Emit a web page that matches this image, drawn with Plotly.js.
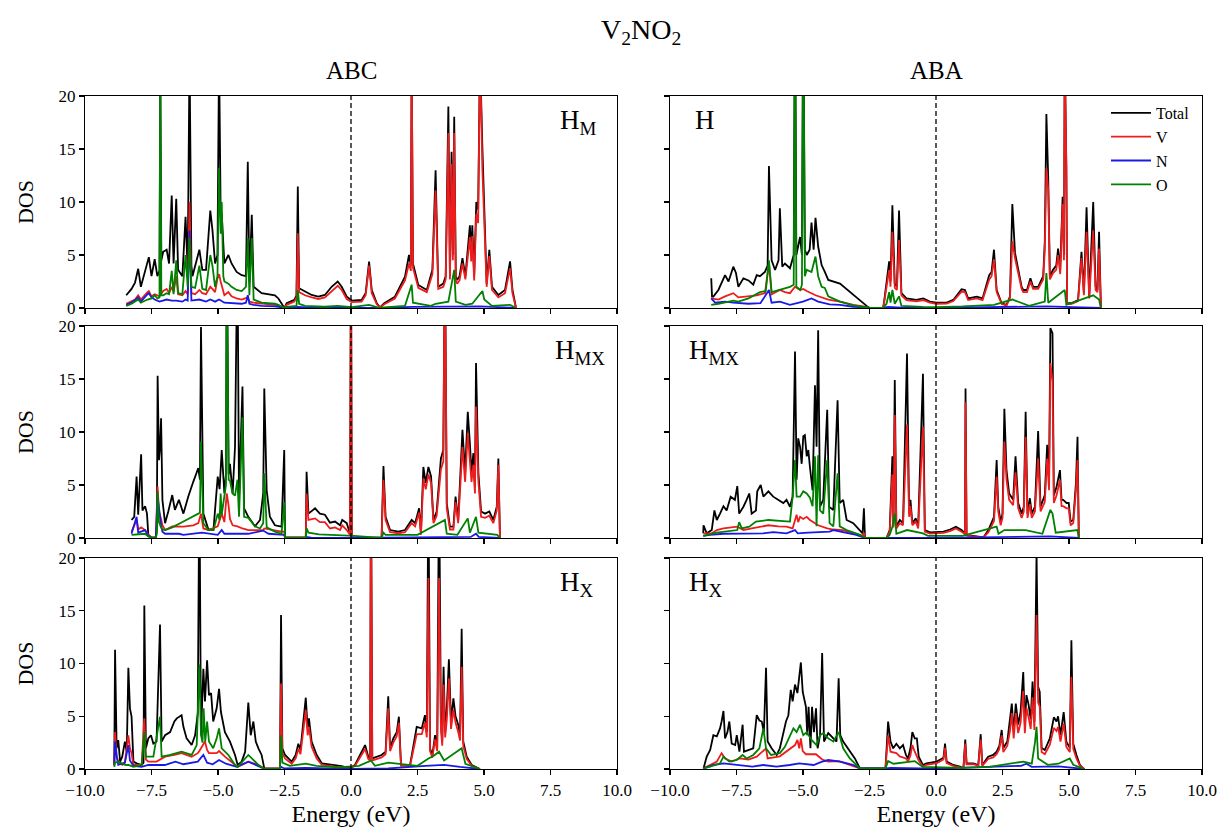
<!DOCTYPE html>
<html>
<head>
<meta charset="utf-8">
<script src="https://cdn.plot.ly/plotly-3.0.1.min.js"></script>
<style>
  html, body { margin: 0; padding: 0; background: #fff; }
  #chart { width: 1222px; height: 832px; }
</style>
</head>
<body>
<div id="chart"></div>
<script>
// ---- Projected DOS of V2NO2, [energy (eV), states] pairs per curve ----

// ABC stacking, H_M site
const abcHM_total = [[-8.45,1.2],[-8.25,1.8],[-8.12,2.4],[-8.0,3.7],[-7.9,2.0],[-7.75,3.5],[-7.65,4.3],[-7.6,4.8],[-7.5,3.0],[-7.38,4.6],[-7.28,3.0],[-7.2,3.5],[-7.17,22],[-7.13,4.5],[-7.06,5.3],[-6.93,5.5],[-6.84,4.2],[-6.74,10.6],[-6.67,4.2],[-6.57,10.3],[-6.5,3.6],[-6.34,3.0],[-6.22,8.6],[-6.14,3.6],[-6.07,24],[-6.0,4.0],[-5.96,3.0],[-5.86,3.9],[-5.7,5.5],[-5.59,3.6],[-5.45,3.6],[-5.29,9.2],[-5.21,7.4],[-5.11,4.2],[-5.02,5.0],[-4.96,24],[-4.9,8.9],[-4.86,8.9],[-4.76,4.2],[-4.61,5.0],[-4.49,4.2],[-4.3,3.4],[-4.11,3.1],[-3.95,3.0],[-3.88,13.8],[-3.82,2.5],[-3.73,8.8],[-3.66,2.0],[-3.36,1.4],[-2.86,1.2],[-2.73,0.9],[-2.58,0.3],[-2.5,0],[-2.42,0.45],[-2.13,0.76],[-2.05,1.2],[-2.0,11.45],[-1.95,1.86],[-1.73,1.55],[-1.48,1.23],[-1.23,1.07],[-0.98,1.23],[-0.73,2.0],[-0.5,2.5],[-0.35,2.0],[-0.16,1.07],[0.03,0.7],[0.4,0.76],[0.55,1.4],[0.68,4.37],[0.78,1.7],[0.97,0.45],[1.09,0.05],[1.25,0.45],[1.65,1.07],[2.03,2.96],[2.18,5.0],[2.25,4.0],[2.28,24],[2.33,4.2],[2.53,2.17],[2.85,1.7],[3.06,3.6],[3.18,13.0],[3.28,2.0],[3.47,2.3],[3.56,3.0],[3.66,19.0],[3.72,3.0],[3.78,14.75],[3.83,5.0],[3.88,18.05],[3.94,3.0],[3.99,2.65],[4.08,3.0],[4.19,4.7],[4.3,3.0],[4.47,7.8],[4.52,5.0],[4.56,7.8],[4.63,3.0],[4.71,10.0],[4.78,9.3],[4.85,24],[4.94,15.07],[5.01,9.57],[5.1,2.3],[5.2,5.5],[5.3,2.0],[5.54,1.23],[5.79,1.7],[5.98,4.4],[6.07,1.7],[6.17,0.45],[6.2,0]];
const abcHM_v = [[-8.45,0.4],[-8.12,0.8],[-8.0,1.2],[-7.9,0.8],[-7.65,1.5],[-7.6,1.6],[-7.5,1.1],[-7.38,1.3],[-7.2,1.1],[-7.06,1.6],[-6.93,1.8],[-6.84,1.4],[-6.74,2.0],[-6.67,1.5],[-6.57,3.0],[-6.5,1.3],[-6.34,1.2],[-6.22,1.6],[-6.14,1.3],[-6.07,10],[-6.0,1.4],[-5.86,1.3],[-5.7,1.7],[-5.59,1.4],[-5.45,1.3],[-5.29,2.0],[-5.21,1.8],[-5.11,1.5],[-5.02,2.8],[-4.96,3.2],[-4.9,2.5],[-4.76,1.2],[-4.61,1.5],[-4.49,1.1],[-4.3,0.9],[-4.11,0.8],[-3.88,1.0],[-3.82,0.6],[-3.66,0.5],[-3.36,0.4],[-2.86,0.3],[-2.58,0.1],[-2.5,0],[-2.42,0.3],[-2.13,0.6],[-2.05,1.0],[-2.0,7.05],[-1.95,1.5],[-1.73,1.2],[-1.48,1.0],[-1.23,0.85],[-0.98,1.0],[-0.73,1.6],[-0.5,2.1],[-0.35,1.7],[-0.16,0.85],[0.03,0.55],[0.4,0.6],[0.55,1.2],[0.68,4.0],[0.78,1.4],[0.97,0.35],[1.09,0.03],[1.25,0.35],[1.65,0.9],[2.03,2.6],[2.18,4.2],[2.25,3.5],[2.28,24],[2.33,3.8],[2.53,1.9],[2.85,1.5],[3.06,3.2],[3.18,11.1],[3.28,1.8],[3.47,2.0],[3.56,2.7],[3.66,16.5],[3.72,2.7],[3.78,13.6],[3.83,4.5],[3.88,16.5],[3.94,2.6],[3.99,2.3],[4.08,2.6],[4.19,4.2],[4.3,2.7],[4.47,6.7],[4.52,4.4],[4.56,6.8],[4.63,2.6],[4.71,8.9],[4.78,8.0],[4.85,24],[4.94,13.0],[5.01,8.5],[5.1,2.0],[5.2,4.9],[5.3,1.7],[5.54,1.0],[5.79,1.4],[5.98,3.75],[6.07,1.4],[6.17,0.35],[6.2,0]];
const abcHM_n = [[-8.45,0.3],[-8.25,0.5],[-8.0,1.0],[-7.9,0.6],[-7.65,1.3],[-7.6,1.4],[-7.5,1.0],[-7.38,0.8],[-7.2,0.6],[-6.93,0.8],[-6.74,0.7],[-6.57,0.7],[-6.34,0.6],[-6.22,0.8],[-6.14,0.7],[-6.07,7.3],[-6.0,0.7],[-5.7,0.8],[-5.45,0.6],[-5.29,0.8],[-5.11,0.6],[-4.96,0.8],[-4.76,0.5],[-4.3,0.4],[-4.11,0.4],[-3.95,0.5],[-3.88,1.2],[-3.82,0.4],[-3.66,0.3],[-3.36,0.2],[-2.86,0.15],[-2.58,0.05],[-2.5,0],[-2.42,0.02],[-2.0,0.1],[-1.5,0.03],[0.03,0.02],[1.09,0.0],[1.25,0.02],[2.28,0.1],[3.88,0.1],[4.85,0.15],[6.17,0.02],[6.2,0]];
const abcHM_o = [[-8.45,0.2],[-8.25,0.4],[-8.0,0.8],[-7.9,0.5],[-7.65,0.8],[-7.5,0.9],[-7.38,1.2],[-7.28,0.9],[-7.2,1.0],[-7.17,24],[-7.13,1.2],[-7.06,1.2],[-6.93,1.4],[-6.84,1.3],[-6.74,3.5],[-6.67,1.3],[-6.57,4.5],[-6.5,1.4],[-6.34,1.3],[-6.22,5.0],[-6.14,2.0],[-6.07,6.6],[-6.0,2.0],[-5.86,1.9],[-5.7,4.0],[-5.59,1.8],[-5.45,1.7],[-5.29,5.0],[-5.21,4.0],[-5.11,2.0],[-5.02,3.0],[-4.96,13.2],[-4.9,7.0],[-4.86,10.0],[-4.8,3.0],[-4.76,2.5],[-4.61,2.3],[-4.49,2.0],[-4.3,1.7],[-4.11,1.6],[-3.95,2.0],[-3.88,6.6],[-3.82,1.2],[-3.73,6.6],[-3.66,0.8],[-3.36,0.5],[-2.86,0.4],[-2.73,0.3],[-2.58,0.1],[-2.5,0],[-2.42,0.1],[-2.05,0.2],[-2.0,1.7],[-1.95,0.4],[-1.73,0.2],[-1.0,0.12],[-0.5,0.2],[0.03,0.08],[0.68,0.3],[0.97,0.05],[1.09,0],[1.25,0.05],[2.03,0.2],[2.28,2.2],[2.33,0.5],[3.0,0.2],[3.18,0.4],[3.66,0.6],[3.88,3.6],[3.94,0.6],[4.3,0.3],[4.56,0.4],[4.85,1.4],[4.94,1.6],[5.01,0.8],[5.3,0.2],[5.98,0.3],[6.17,0.05],[6.2,0]];

// ABA stacking, H site
const abaH_total = [[-8.45,2.8],[-8.42,1.07],[-8.37,1.07],[-8.18,1.7],[-7.93,3.1],[-7.8,2.5],[-7.62,3.9],[-7.52,3.3],[-7.43,2.0],[-7.24,2.8],[-7.05,2.6],[-6.87,2.2],[-6.74,3.1],[-6.62,3.0],[-6.43,3.4],[-6.33,4.0],[-6.28,13.4],[-6.18,4.5],[-6.05,3.6],[-5.92,4.5],[-5.87,9.4],[-5.78,3.9],[-5.68,4.2],[-5.49,3.75],[-5.35,5.0],[-5.3,30],[-5.25,5.0],[-5.11,6.7],[-5.04,5.0],[-4.99,30],[-4.93,5.5],[-4.86,5.0],[-4.75,5.5],[-4.68,8.05],[-4.6,5.5],[-4.53,8.5],[-4.43,5.8],[-4.3,4.05],[-4.18,3.4],[-4.05,2.65],[-3.61,2.3],[-3.11,1.23],[-2.8,0.6],[-2.61,0.2],[-2.49,0],[-1.99,0],[-1.95,0.6],[-1.86,2.65],[-1.76,4.4],[-1.71,2.5],[-1.64,9.7],[-1.55,2.3],[-1.47,2.0],[-1.39,9.2],[-1.3,1.4],[-1.11,0.9],[-0.74,0.76],[-0.48,0.9],[-0.23,0.6],[0.02,0.5],[0.4,0.5],[0.65,0.76],[0.96,1.76],[1.09,1.7],[1.21,0.9],[1.53,1.07],[1.75,0.9],[2.0,3.1],[2.09,3.4],[2.18,5.5],[2.28,1.7],[2.47,0.45],[2.65,0.3],[2.78,1.07],[2.87,9.8],[2.97,5.2],[3.05,4.2],[3.15,3.0],[3.22,2.0],[3.28,1.7],[3.42,1.7],[3.55,2.8],[3.65,2.0],[3.84,2.0],[4.03,3.0],[4.09,6.3],[4.15,18.3],[4.22,12.1],[4.28,3.0],[4.4,3.6],[4.52,4.0],[4.59,5.6],[4.67,3.6],[4.76,10.5],[4.81,5.0],[4.84,24],[4.9,13.3],[4.93,0.45],[5.1,0.45],[5.34,0.76],[5.47,5.3],[5.56,1.4],[5.66,9.5],[5.76,1.07],[5.91,10.0],[6.0,2.0],[6.07,1.7],[6.13,7.2],[6.18,1.2],[6.2,0]];
const abaH_v = [[-8.45,0.9],[-8.18,0.8],[-7.93,1.1],[-7.62,1.4],[-7.43,1.0],[-7.05,1.1],[-6.74,1.2],[-6.43,1.4],[-6.28,4.2],[-6.18,1.3],[-5.87,1.7],[-5.68,1.5],[-5.49,1.4],[-5.3,2.0],[-5.11,1.7],[-4.99,1.8],[-4.86,1.6],[-4.53,1.2],[-4.3,1.0],[-4.05,0.8],[-3.61,0.6],[-3.11,0.3],[-2.61,0.1],[-2.49,0],[-1.99,0],[-1.95,0.5],[-1.86,2.0],[-1.76,3.6],[-1.71,2.0],[-1.64,7.2],[-1.55,1.9],[-1.47,1.7],[-1.39,6.4],[-1.3,1.2],[-1.11,0.75],[-0.74,0.62],[-0.48,0.75],[-0.23,0.5],[0.02,0.4],[0.4,0.42],[0.65,0.65],[0.96,1.55],[1.09,1.5],[1.21,0.75],[1.53,0.9],[1.75,0.75],[2.0,2.7],[2.09,3.0],[2.18,4.6],[2.28,1.5],[2.47,0.38],[2.65,0.25],[2.78,0.95],[2.87,6.3],[2.97,4.7],[3.05,3.8],[3.15,2.7],[3.22,1.8],[3.28,1.5],[3.42,1.5],[3.55,2.5],[3.65,1.8],[3.84,1.8],[4.03,2.7],[4.09,5.5],[4.15,13.2],[4.22,11.1],[4.28,2.7],[4.4,3.3],[4.52,3.6],[4.59,5.0],[4.67,3.2],[4.76,9.8],[4.81,4.5],[4.84,24],[4.9,13.3],[4.93,0.4],[5.1,0.4],[5.34,0.65],[5.47,4.7],[5.56,1.2],[5.66,7.2],[5.76,0.9],[5.91,7.3],[6.0,1.7],[6.07,1.5],[6.13,5.6],[6.18,1.0],[6.2,0]];
const abaH_n = [[-8.45,0.9],[-8.3,0.5],[-7.93,0.6],[-7.62,0.5],[-7.05,0.4],[-6.6,0.45],[-6.28,1.7],[-6.18,0.5],[-5.87,0.6],[-5.49,0.3],[-5.0,0.6],[-4.68,0.9],[-4.43,0.6],[-4.0,0.35],[-3.61,0.3],[-3.11,0.12],[-2.61,0.05],[-2.49,0],[-1.99,0],[-1.8,0.1],[-1.3,0.03],[0.02,0.02],[4.15,0.15],[4.84,0.1],[6.2,0]];
const abaH_o = [[-8.45,0.3],[-8.18,0.4],[-7.62,0.7],[-7.43,0.6],[-7.05,0.9],[-6.62,1.5],[-6.4,1.6],[-6.28,4.5],[-6.18,1.5],[-5.87,1.7],[-5.49,2.0],[-5.35,2.2],[-5.3,30],[-5.25,2.0],[-5.1,1.7],[-5.04,2.2],[-4.99,30],[-4.93,3.0],[-4.86,3.6],[-4.68,3.4],[-4.53,4.85],[-4.43,3.0],[-4.3,2.0],[-4.18,1.9],[-4.05,1.1],[-3.61,0.6],[-3.11,0.25],[-2.61,0.05],[-2.49,0],[-1.99,0],[-1.86,0.4],[-1.76,1.5],[-1.71,0.5],[-1.64,1.7],[-1.55,0.4],[-1.39,1.1],[-1.3,0.2],[-0.5,0.1],[0.02,0.08],[1.0,0.15],[2.18,0.3],[2.87,0.8],[3.5,0.2],[4.09,0.6],[4.15,3.3],[4.22,0.5],[4.84,1.7],[4.9,0.3],[5.66,1.0],[5.91,1.2],[6.13,0.8],[6.2,0]];

// ABC stacking, H_MX site
const abcHMX_total = [[-8.25,1.7],[-8.15,2.0],[-8.06,5.8],[-8.0,2.2],[-7.89,7.9],[-7.84,2.6],[-7.74,3.0],[-7.67,2.3],[-7.62,0.3],[-7.5,0.05],[-7.34,0.05],[-7.3,0.8],[-7.27,15.3],[-7.22,7.35],[-7.18,8.5],[-7.14,11.3],[-7.09,3.6],[-6.99,1.4],[-6.87,2.5],[-6.72,4.05],[-6.62,2.65],[-6.47,3.6],[-6.3,2.3],[-6.12,3.9],[-5.93,5.3],[-5.74,6.6],[-5.68,5.5],[-5.64,19.9],[-5.55,2.3],[-5.36,0.8],[-5.17,0.8],[-5.01,5.8],[-4.94,4.6],[-4.86,8.3],[-4.76,4.2],[-4.7,6.0],[-4.67,28],[-4.6,6.0],[-4.55,7.0],[-4.45,4.2],[-4.36,8.6],[-4.27,28],[-4.21,3.6],[-4.08,14.3],[-4.02,2.8],[-3.86,2.0],[-3.61,1.1],[-3.42,1.7],[-3.3,4.2],[-3.26,14.1],[-3.17,4.5],[-3.05,2.0],[-2.86,1.2],[-2.61,1.07],[-2.51,8.3],[-2.48,0.05],[-1.7,0.05],[-1.67,6.25],[-1.6,2.3],[-1.35,2.8],[-1.17,2.3],[-0.98,2.2],[-0.79,1.45],[-0.6,1.55],[-0.41,1.2],[-0.33,1.7],[-0.16,1.4],[-0.04,0.44],[0.0,28],[0.03,0.3],[0.1,0],[1.15,0.05],[1.22,6.8],[1.3,2.0],[1.47,0.75],[1.78,0.6],[2.03,0.75],[2.28,1.7],[2.41,1.4],[2.56,2.8],[2.63,0.44],[2.72,6.7],[2.81,5.2],[2.91,6.7],[3.01,5.8],[3.1,1.7],[3.22,2.5],[3.38,7.5],[3.47,8.3],[3.53,28],[3.6,3.3],[3.72,1.07],[3.85,1.07],[3.93,3.9],[4.03,1.7],[4.19,10.2],[4.29,6.1],[4.39,11.9],[4.47,8.9],[4.53,6.1],[4.6,8.0],[4.66,4.8],[4.7,16.5],[4.79,6.1],[4.89,2.5],[5.04,2.3],[5.2,2.5],[5.35,1.7],[5.48,2.95],[5.54,7.5],[5.6,0]];
const abcHMX_v = [[-8.25,0.6],[-8.06,1.7],[-8.0,0.8],[-7.89,1.0],[-7.74,0.75],[-7.62,0.3],[-7.5,0.03],[-7.34,0.03],[-7.27,4.85],[-7.22,2.5],[-7.14,1.8],[-7.09,1.2],[-6.99,0.75],[-6.72,1.1],[-6.3,1.07],[-5.93,1.2],[-5.74,1.4],[-5.64,2.3],[-5.55,0.9],[-5.36,0.75],[-5.01,1.1],[-4.86,2.3],[-4.76,1.5],[-4.7,3.6],[-4.67,4.2],[-4.6,3.0],[-4.55,1.8],[-4.45,1.2],[-4.27,1.1],[-4.08,0.9],[-3.86,0.75],[-3.3,0.75],[-3.26,0.9],[-2.61,0.6],[-2.51,0.6],[-2.48,0.03],[-1.7,0.03],[-1.67,4.2],[-1.6,1.7],[-1.35,1.85],[-1.17,1.5],[-0.98,1.5],[-0.79,0.9],[-0.6,1.0],[-0.41,0.75],[-0.33,1.2],[-0.16,0.75],[-0.04,0.3],[0.0,28],[0.03,0.2],[0.1,0],[1.15,0.03],[1.22,5.5],[1.3,1.7],[1.47,0.55],[1.78,0.45],[2.03,0.55],[2.28,1.4],[2.41,1.1],[2.56,2.4],[2.63,0.3],[2.72,5.6],[2.81,4.6],[2.91,6.0],[3.01,5.2],[3.1,1.4],[3.22,2.1],[3.38,6.5],[3.47,7.2],[3.53,28],[3.6,2.8],[3.72,0.8],[3.85,0.8],[3.93,3.4],[4.03,1.4],[4.19,8.6],[4.29,5.3],[4.39,9.9],[4.47,7.6],[4.53,5.3],[4.6,6.9],[4.66,4.2],[4.7,12.4],[4.79,5.3],[4.89,2.0],[5.04,1.9],[5.2,2.1],[5.35,1.4],[5.48,2.6],[5.54,6.9],[5.6,0]];
const abcHMX_n = [[-8.25,0.4],[-8.06,2.0],[-8.0,0.5],[-7.74,0.75],[-7.62,0.2],[-7.5,0.02],[-7.34,0.02],[-7.27,3.9],[-7.14,1.2],[-7.09,0.6],[-6.99,0.4],[-6.47,0.4],[-6.3,0.3],[-6.0,0.4],[-5.6,0.5],[-5.01,0.3],[-4.86,0.75],[-4.76,0.4],[-4.3,0.4],[-3.86,0.4],[-3.3,0.7],[-3.1,0.4],[-2.51,0.3],[-2.48,0],[-1.7,0],[-1.67,0.1],[-1.5,0.03],[0.1,0.02],[4.5,0.1],[4.7,0.4],[4.8,0.1],[5.6,0]];
const abcHMX_o = [[-8.25,0.3],[-7.74,0.4],[-7.62,0.15],[-7.5,0.02],[-7.34,0.02],[-7.3,0.4],[-7.27,4.4],[-7.22,1.5],[-7.14,1.0],[-7.09,0.8],[-6.99,0.75],[-6.72,1.0],[-6.3,1.55],[-5.93,2.0],[-5.74,2.3],[-5.68,2.4],[-5.64,9.1],[-5.55,1.4],[-5.36,0.75],[-5.17,0.75],[-5.01,2.3],[-4.94,1.7],[-4.9,4.2],[-4.86,2.2],[-4.7,5.0],[-4.67,28],[-4.6,5.5],[-4.55,5.4],[-4.45,4.2],[-4.36,4.0],[-4.27,5.5],[-4.21,2.0],[-4.08,11.4],[-4.02,2.0],[-3.86,1.9],[-3.61,1.1],[-3.42,0.9],[-3.3,1.4],[-3.26,6.1],[-3.17,1.0],[-2.86,0.6],[-2.61,0.4],[-2.51,3.4],[-2.48,0.02],[-1.7,0.02],[-1.67,0.9],[-1.6,0.5],[-1.2,0.35],[-0.5,0.3],[0.1,0.2],[1.15,0.02],[1.22,0.5],[1.3,0.3],[2.5,0.3],[3.53,1.7],[3.6,0.4],[4.0,0.3],[4.39,1.85],[4.47,0.5],[4.7,2.0],[4.79,0.5],[5.5,0.3],[5.6,0]];

// ABA stacking, H_MX site
const abaHMX_total = [[-8.75,0.44],[-8.74,1.2],[-8.62,0.44],[-8.43,0.75],[-8.33,2.6],[-8.24,1.7],[-8.12,2.3],[-7.99,3.0],[-7.87,2.6],[-7.72,3.9],[-7.56,3.6],[-7.47,4.9],[-7.4,2.3],[-7.24,2.95],[-7.12,3.6],[-7.02,4.2],[-6.93,2.3],[-6.77,2.6],[-6.72,4.4],[-6.59,5.0],[-6.49,3.9],[-6.3,4.4],[-6.12,3.9],[-5.93,3.6],[-5.74,3.3],[-5.62,3.6],[-5.49,2.95],[-5.39,3.9],[-5.3,17.6],[-5.24,5.5],[-5.18,9.4],[-5.11,8.6],[-5.05,7.0],[-4.99,9.6],[-4.93,9.7],[-4.86,7.7],[-4.8,8.3],[-4.74,6.7],[-4.64,4.5],[-4.55,14.4],[-4.49,8.6],[-4.43,19.6],[-4.36,2.95],[-4.24,3.6],[-4.09,12.1],[-4.02,2.95],[-3.86,2.65],[-3.7,13.0],[-3.62,3.3],[-3.49,3.6],[-3.36,1.7],[-3.11,1.4],[-2.86,0.75],[-2.76,0.44],[-2.71,2.8],[-2.67,0],[-1.86,0],[-1.74,0.75],[-1.64,7.7],[-1.6,1.2],[-1.55,14.9],[-1.49,1.1],[-1.36,1.7],[-1.24,1.4],[-1.09,17.4],[-1.01,2.3],[-0.96,3.6],[-0.89,1.4],[-0.76,1.85],[-0.67,1.1],[-0.49,15.5],[-0.42,0.75],[-0.23,0.53],[0.28,0.6],[0.53,0.8],[0.75,1.07],[0.96,0.75],[1.09,0.44],[1.11,14.1],[1.15,0.28],[1.4,0.2],[1.78,0.05],[1.97,0.75],[2.09,1.55],[2.18,2.0],[2.28,7.35],[2.34,2.95],[2.43,1.55],[2.5,2.3],[2.57,12.2],[2.65,6.4],[2.75,4.2],[2.9,3.6],[2.99,7.7],[3.09,3.3],[3.22,2.3],[3.3,2.95],[3.37,11.9],[3.44,2.3],[3.53,3.75],[3.6,2.3],[3.72,2.95],[3.84,10.1],[3.93,2.95],[4.09,4.05],[4.18,8.8],[4.25,5.5],[4.3,19.8],[4.38,19.3],[4.43,4.0],[4.53,4.8],[4.66,6.4],[4.72,3.6],[4.78,3.6],[4.91,3.3],[4.99,3.3],[5.06,1.55],[5.16,1.7],[5.26,5.15],[5.32,9.55],[5.37,0]];
const abaHMX_v = [[-8.75,0.44],[-8.43,0.44],[-8.24,0.75],[-7.99,0.9],[-7.47,1.07],[-7.24,0.75],[-6.93,0.9],[-6.59,1.07],[-6.3,1.2],[-5.93,1.1],[-5.62,1.07],[-5.39,0.9],[-5.3,1.6],[-5.24,2.2],[-5.18,1.5],[-5.11,2.0],[-4.99,1.8],[-4.86,2.0],[-4.74,1.7],[-4.55,1.4],[-4.43,1.2],[-4.09,0.9],[-3.86,0.8],[-3.49,0.75],[-3.11,0.44],[-2.76,0.2],[-2.71,0.5],[-2.67,0],[-1.86,0],[-1.74,0.6],[-1.64,6.0],[-1.6,1.0],[-1.55,11.6],[-1.49,0.9],[-1.36,1.4],[-1.24,1.2],[-1.09,10.7],[-1.01,2.0],[-0.96,3.0],[-0.89,1.2],[-0.76,1.55],[-0.67,0.9],[-0.49,10.5],[-0.42,0.6],[-0.23,0.42],[0.28,0.48],[0.53,0.65],[0.75,0.9],[0.96,0.6],[1.09,0.35],[1.11,12.8],[1.15,0.22],[1.4,0.15],[1.78,0.04],[1.97,0.55],[2.09,1.2],[2.18,1.6],[2.28,5.8],[2.34,2.5],[2.43,1.2],[2.5,1.9],[2.57,9.1],[2.65,5.5],[2.75,3.6],[2.9,3.1],[2.99,6.2],[3.09,2.8],[3.22,1.9],[3.3,2.5],[3.37,9.55],[3.44,1.9],[3.53,3.2],[3.6,1.9],[3.72,2.5],[3.84,7.5],[3.93,2.5],[4.09,3.4],[4.18,7.5],[4.25,4.5],[4.3,16.5],[4.38,14.75],[4.43,3.3],[4.53,4.0],[4.66,5.5],[4.72,3.0],[4.78,3.0],[4.91,2.8],[4.99,2.8],[5.06,1.2],[5.16,1.4],[5.26,4.5],[5.32,7.35],[5.37,0]];
const abaHMX_n = [[-8.75,0.2],[-8.5,0.3],[-7.99,0.4],[-7.5,0.4],[-6.87,0.44],[-6.5,0.44],[-6.12,0.55],[-5.62,0.44],[-5.3,0.75],[-5.2,0.44],[-4.8,0.5],[-4.43,0.55],[-4.0,0.6],[-3.86,0.75],[-3.49,0.55],[-3.0,0.3],[-2.67,0],[-1.86,0],[-1.6,0.05],[0,0.02],[4.3,0.15],[5.37,0]];
const abaHMX_o = [[-8.75,0.2],[-8.24,0.5],[-7.47,0.75],[-7.4,1.5],[-7.3,0.9],[-7.02,1.07],[-6.77,1.55],[-6.3,1.7],[-5.74,1.6],[-5.49,1.55],[-5.39,3.9],[-5.3,7.35],[-5.24,3.9],[-5.11,3.9],[-4.99,4.4],[-4.86,4.2],[-4.74,3.8],[-4.64,3.0],[-4.55,7.7],[-4.49,1.1],[-4.43,7.8],[-4.36,2.6],[-4.24,2.3],[-4.09,7.35],[-4.0,1.4],[-3.86,1.1],[-3.7,6.1],[-3.62,1.1],[-3.36,0.75],[-2.86,0.3],[-2.67,0],[-1.86,0],[-1.74,0.3],[-1.64,1.07],[-1.55,2.3],[-1.49,0.4],[-1.09,0.75],[-0.49,0.44],[-0.3,0.2],[1.0,0.2],[2.28,1.07],[2.35,0.4],[2.57,0.75],[3.37,0.75],[4.0,0.4],[4.3,2.65],[4.38,2.3],[4.5,0.5],[5.32,0.75],[5.37,0]];

// ABC stacking, H_X site
const abcHX_total = [[-8.9,0.38],[-8.87,11.3],[-8.81,1.96],[-8.75,2.75],[-8.68,0.7],[-8.6,1.17],[-8.5,2.6],[-8.43,1.6],[-8.37,9.6],[-8.31,5.75],[-8.25,4.96],[-8.18,0.7],[-8.06,0.54],[-7.87,0.38],[-7.8,0.6],[-7.77,15.5],[-7.71,1.96],[-7.62,2.9],[-7.52,3.2],[-7.43,2.4],[-7.31,2.6],[-7.18,13.7],[-7.12,2.6],[-6.99,3.2],[-6.8,3.5],[-6.64,4.5],[-6.55,4.8],[-6.47,4.96],[-6.37,5.1],[-6.3,4.0],[-6.18,2.9],[-5.99,2.27],[-5.86,3.2],[-5.76,5.3],[-5.7,28],[-5.64,3.2],[-5.55,9.5],[-5.49,6.4],[-5.41,10.3],[-5.34,7.0],[-5.26,7.2],[-5.18,4.5],[-5.05,5.75],[-4.96,7.6],[-4.89,5.4],[-4.74,3.5],[-4.55,2.6],[-4.36,1.33],[-4.26,0.38],[-4.11,0.7],[-3.98,1.64],[-3.86,6.3],[-3.77,3.2],[-3.67,4.5],[-3.58,2.6],[-3.48,1.96],[-3.36,1.33],[-3.26,0.06],[-2.67,0.06],[-2.63,14.6],[-2.58,1.96],[-2.48,1.33],[-2.23,0.7],[-2.08,1.33],[-1.98,2.4],[-1.9,1.8],[-1.79,4.2],[-1.7,6.76],[-1.63,3.85],[-1.58,4.8],[-1.48,2.6],[-1.29,1.33],[-1.1,0.54],[-0.73,0.38],[-0.35,0.28],[-0.04,0.06],[0.15,0.38],[0.34,1.33],[0.53,2.27],[0.65,1.17],[0.72,1.0],[0.75,28],[0.8,1.0],[1.15,1.33],[1.3,1.64],[1.4,6.9],[1.47,1.96],[1.59,2.9],[1.72,3.5],[1.8,4.96],[1.88,0.38],[2.22,0.38],[2.34,1.96],[2.47,4.0],[2.66,3.85],[2.78,5.1],[2.85,3.5],[2.91,28],[2.97,1.96],[3.06,1.33],[3.16,3.2],[3.24,2.0],[3.31,28],[3.38,4.5],[3.43,2.6],[3.48,9.7],[3.54,3.5],[3.6,5.6],[3.68,10.4],[3.76,4.5],[3.85,6.7],[3.93,5.0],[4.03,4.2],[4.1,3.2],[4.16,13.3],[4.22,2.6],[4.35,1.17],[4.54,0.38],[4.79,0.06],[4.85,0]];
const abcHX_v = [[-8.9,0.3],[-8.87,3.5],[-8.81,1.2],[-8.75,0.7],[-8.6,0.4],[-8.5,0.6],[-8.37,3.2],[-8.31,1.96],[-8.25,1.5],[-8.18,0.38],[-7.87,0.38],[-7.77,4.8],[-7.71,0.9],[-7.62,0.7],[-7.31,0.7],[-7.18,0.9],[-6.99,1.17],[-6.64,1.33],[-6.37,1.5],[-5.99,1.17],[-5.76,1.5],[-5.7,1.7],[-5.64,1.96],[-5.55,2.3],[-5.49,2.6],[-5.41,1.8],[-5.34,1.5],[-5.05,1.5],[-4.96,1.7],[-4.74,1.17],[-4.36,0.38],[-4.26,0.2],[-3.86,0.7],[-3.48,0.38],[-3.26,0.03],[-2.67,0.03],[-2.63,8.1],[-2.58,1.5],[-2.48,1.0],[-2.23,0.5],[-2.08,1.0],[-1.98,1.9],[-1.9,1.4],[-1.79,3.5],[-1.7,5.6],[-1.63,3.2],[-1.58,4.0],[-1.48,2.1],[-1.29,1.0],[-1.1,0.4],[-0.73,0.28],[-0.35,0.2],[-0.04,0.04],[0.15,0.3],[0.34,1.1],[0.53,1.9],[0.65,0.95],[0.72,0.8],[0.75,28],[0.8,0.8],[1.15,1.1],[1.3,1.4],[1.4,5.75],[1.47,1.7],[1.59,2.5],[1.72,3.1],[1.8,4.4],[1.88,0.3],[2.22,0.3],[2.34,1.6],[2.47,3.3],[2.66,3.3],[2.78,4.4],[2.85,3.0],[2.91,18.1],[2.97,1.7],[3.06,1.1],[3.16,2.8],[3.24,1.7],[3.31,18.1],[3.38,3.8],[3.43,2.2],[3.48,8.0],[3.54,3.0],[3.6,4.6],[3.68,8.6],[3.76,3.8],[3.85,5.6],[3.93,4.4],[4.03,3.5],[4.1,2.7],[4.16,9.7],[4.22,2.2],[4.35,0.95],[4.54,0.3],[4.79,0.04],[4.85,0]];
const abcHX_n = [[-8.9,0.5],[-8.87,2.6],[-8.81,1.2],[-8.75,0.4],[-8.5,0.6],[-8.37,2.27],[-8.31,0.8],[-8.18,0.3],[-7.87,0.2],[-7.62,0.38],[-7.0,0.38],[-6.6,0.7],[-6.3,0.45],[-5.76,0.7],[-5.55,1.33],[-5.41,0.6],[-5.2,0.45],[-4.96,0.85],[-4.7,0.5],[-4.3,0.2],[-3.86,0.7],[-3.6,0.4],[-3.26,0.02],[-2.67,0.02],[-2.63,0.2],[-2.5,0.05],[-1.7,0.1],[0.0,0.02],[1.4,0.05],[2.8,0.3],[3.5,0.4],[4.1,0.2],[4.6,0.05],[4.85,0]];
const abcHX_o = [[-8.9,0.2],[-8.87,0.6],[-8.75,0.7],[-8.5,0.4],[-8.37,0.38],[-8.18,0.2],[-7.87,0.38],[-7.77,3.5],[-7.71,1.17],[-7.43,1.17],[-7.18,4.96],[-7.12,1.17],[-6.8,1.33],[-6.37,1.64],[-5.99,1.33],[-5.8,2.27],[-5.7,9.9],[-5.64,3.2],[-5.58,2.5],[-5.54,5.75],[-5.48,2.6],[-5.41,4.5],[-5.34,2.6],[-5.18,1.96],[-5.05,2.9],[-4.96,3.85],[-4.86,1.96],[-4.61,1.33],[-4.36,0.38],[-4.26,0.2],[-3.86,1.33],[-3.73,1.0],[-3.48,0.38],[-3.26,0.02],[-2.67,0.02],[-2.63,3.2],[-2.58,0.6],[-2.3,0.3],[-1.7,0.5],[-1.3,0.3],[-0.5,0.15],[0.3,0.3],[0.75,0.8],[0.9,0.3],[1.4,0.6],[2.5,0.3],[2.91,1.0],[3.06,1.17],[3.31,1.64],[3.5,0.8],[4.16,1.96],[4.3,0.5],[4.8,0.05],[4.85,0]];

// ABA stacking, H_X site
const abaHX_total = [[-8.74,0.06],[-8.62,1.17],[-8.49,1.8],[-8.37,3.2],[-8.24,3.1],[-8.12,3.85],[-8.06,4.5],[-7.99,5.5],[-7.93,2.9],[-7.84,3.5],[-7.77,4.5],[-7.68,2.4],[-7.55,2.27],[-7.49,3.2],[-7.39,1.64],[-7.27,4.2],[-7.22,1.64],[-7.05,1.8],[-6.87,1.96],[-6.74,5.1],[-6.64,4.6],[-6.55,4.5],[-6.47,3.5],[-6.39,9.6],[-6.33,2.6],[-6.18,1.96],[-5.99,1.33],[-5.87,1.96],[-5.74,3.5],[-5.64,4.5],[-5.55,5.1],[-5.46,7.5],[-5.39,6.4],[-5.3,8.0],[-5.21,7.2],[-5.14,8.9],[-5.08,10.1],[-5.01,7.3],[-4.95,6.4],[-4.89,5.9],[-4.84,3.2],[-4.79,5.9],[-4.72,1.96],[-4.66,5.9],[-4.59,3.5],[-4.51,5.75],[-4.45,1.96],[-4.36,3.2],[-4.28,11.0],[-4.21,2.6],[-4.05,3.4],[-3.86,2.9],[-3.74,2.6],[-3.66,8.6],[-3.6,3.2],[-3.49,2.6],[-3.24,1.64],[-3.05,1.0],[-2.86,0.06],[-1.9,0.06],[-1.8,4.5],[-1.71,2.6],[-1.61,1.96],[-1.49,2.4],[-1.36,1.96],[-1.24,2.27],[-1.13,1.33],[-1.05,1.0],[-0.96,1.96],[-0.89,3.5],[-0.8,2.9],[-0.72,2.9],[-0.65,1.17],[-0.49,0.38],[-0.36,0.54],[0.03,0.7],[0.28,1.07],[0.34,2.4],[0.4,0.7],[0.65,0.38],[0.9,0.22],[1.03,0.06],[1.1,2.8],[1.15,0.54],[1.4,0.54],[1.59,0.38],[1.68,3.3],[1.74,0.38],[1.96,1.17],[2.15,1.33],[2.28,1.64],[2.38,2.2],[2.47,3.7],[2.53,2.0],[2.68,2.6],[2.78,4.5],[2.85,6.2],[2.92,3.5],[3.0,6.2],[3.09,4.2],[3.18,5.4],[3.28,9.2],[3.34,4.2],[3.4,7.0],[3.48,6.1],[3.56,4.7],[3.63,8.3],[3.7,4.5],[3.78,20.5],[3.84,7.8],[3.9,7.3],[3.97,2.0],[4.09,1.8],[4.28,2.9],[4.43,4.9],[4.53,4.5],[4.59,5.0],[4.68,3.2],[4.8,5.4],[4.9,2.6],[5.03,2.0],[5.09,12.2],[5.16,2.4],[5.28,1.33],[5.41,0.38],[5.53,0.06],[5.58,0]];
const abaHX_v = [[-8.74,0.06],[-8.49,0.4],[-8.24,0.7],[-8.06,1.5],[-7.93,1.0],[-7.68,0.7],[-7.39,1.0],[-7.05,0.9],[-6.74,1.17],[-6.39,1.96],[-6.33,1.0],[-5.87,1.2],[-5.64,1.6],[-5.3,2.27],[-5.21,2.75],[-5.14,1.96],[-5.08,2.9],[-5.01,1.7],[-4.89,1.4],[-4.51,1.4],[-4.28,0.9],[-4.05,0.7],[-3.66,0.75],[-3.24,0.38],[-2.86,0.06],[-1.9,0.06],[-1.8,3.2],[-1.71,1.64],[-1.49,1.5],[-1.36,1.2],[-1.13,1.0],[-1.05,0.7],[-0.96,1.3],[-0.89,2.27],[-0.8,1.64],[-0.65,0.8],[-0.49,0.22],[-0.36,0.4],[0.03,0.55],[0.28,0.9],[0.34,2.0],[0.4,0.55],[0.65,0.3],[0.9,0.16],[1.03,0.04],[1.1,2.4],[1.15,0.45],[1.4,0.45],[1.59,0.3],[1.68,2.8],[1.74,0.3],[1.96,0.95],[2.15,1.1],[2.28,1.4],[2.38,1.9],[2.47,3.2],[2.53,1.6],[2.68,2.2],[2.78,3.6],[2.85,5.3],[2.92,2.9],[3.0,5.3],[3.09,3.4],[3.18,4.4],[3.28,7.4],[3.34,3.4],[3.4,5.8],[3.48,4.9],[3.56,3.8],[3.63,6.8],[3.7,3.7],[3.78,14.6],[3.84,6.3],[3.9,5.9],[3.97,1.6],[4.09,1.4],[4.28,2.3],[4.43,3.9],[4.53,3.6],[4.59,4.0],[4.68,2.6],[4.8,4.3],[4.9,2.1],[5.03,1.6],[5.09,8.75],[5.16,1.9],[5.28,1.0],[5.41,0.3],[5.53,0.04],[5.58,0]];
const abaHX_n = [[-8.74,0.05],[-8.37,0.38],[-7.99,0.54],[-7.5,0.38],[-6.9,0.22],[-6.5,0.38],[-6.0,0.22],[-5.5,0.38],[-5.14,0.54],[-4.6,0.38],[-4.28,0.7],[-4.05,0.85],[-3.6,0.7],[-3.1,0.38],[-2.86,0.05],[-1.9,0.05],[-1.7,0.1],[0,0.03],[3.2,0.3],[3.4,0.5],[3.6,0.2],[4.6,0.25],[5.58,0]];
const abaHX_o = [[-8.74,0.06],[-8.49,0.22],[-8.12,0.54],[-7.99,1.17],[-7.77,0.7],[-7.49,0.85],[-7.27,1.33],[-7.12,1.0],[-6.87,1.33],[-6.74,1.64],[-6.64,1.96],[-6.49,3.85],[-6.39,1.96],[-6.2,1.33],[-5.87,1.5],[-5.68,2.1],[-5.49,3.2],[-5.36,3.85],[-5.24,3.5],[-5.11,4.2],[-4.99,3.2],[-4.86,3.5],[-4.68,2.75],[-4.49,2.27],[-4.36,3.2],[-4.24,3.4],[-4.05,2.9],[-3.86,2.6],[-3.66,3.5],[-3.49,1.96],[-3.24,1.0],[-2.86,0.06],[-1.9,0.06],[-1.8,0.75],[-1.6,0.5],[-0.8,0.75],[-0.5,0.2],[0,0.15],[1.0,0.1],[2.0,0.2],[3.28,0.7],[3.6,0.5],[3.72,2.5],[3.78,4.0],[3.84,1.0],[4.2,0.4],[4.6,0.5],[5.03,1.0],[5.16,0.4],[5.58,0]];

// ---- Labels ----
const seriesNames = ['Total', 'V', 'N', 'O'];
const columnTitles = ['ABC', 'ABA'];
const panelLabels = ['H<sub>M</sub>', 'H', 'H<sub>MX</sub>', 'H<sub>MX</sub>', 'H<sub>X</sub>', 'H<sub>X</sub>'];
const energyTicks = [-10, -7.5, -5, -2.5, 0, 2.5, 5, 7.5, 10];
const energyTickText = ['\u221210.0', '\u22127.5', '\u22125.0', '\u22122.5', '0.0', '2.5', '5.0', '7.5', '10.0'];
const dosTicks = [0, 5, 10, 15, 20];
const figureTitle = 'V<sub>2</sub>NO<sub>2</sub>';

// ---- Panel grid: row-major, left column ABC, right column ABA ----
const panelSeries = [
  [abcHM_total, abcHM_v, abcHM_n, abcHM_o],
  [abaH_total, abaH_v, abaH_n, abaH_o],
  [abcHMX_total, abcHMX_v, abcHMX_n, abcHMX_o],
  [abaHMX_total, abaHMX_v, abaHMX_n, abaHMX_o],
  [abcHX_total, abcHX_v, abcHX_n, abcHX_o],
  [abaHX_total, abaHX_v, abaHX_n, abaHX_o]
];

const W = 1222, H = 832;
const COL_LEFT = [85, 670], COL_RIGHT = [617, 1202];
const ROW_TOP = [96, 326, 558], ROW_BOTTOM = [308, 538, 769];
const COLORS = ['#000000', '#ee1c1c', '#1a1ae6', '#008000'];
const FONT = 'Liberation Serif, Times New Roman, serif';
const px = x => x / W;
const py = y => 1 - y / H;

const traces = [];
const layout = {
  width: W, height: H,
  margin: {l: 0, r: 0, t: 0, b: 0},
  paper_bgcolor: '#fff', plot_bgcolor: '#fff',
  font: {family: FONT, color: '#000'},
  showlegend: true,
  legend: {
    x: px(1106), y: py(96), xanchor: 'left', yanchor: 'top',
    font: {family: FONT, size: 16, color: '#000'},
    bgcolor: 'rgba(0,0,0,0)', borderwidth: 0, tracegroupgap: 0,
    itemwidth: 40
  },
  shapes: [],
  annotations: []
};

panelSeries.forEach((series, i) => {
  const row = Math.floor(i / 2), col = i % 2;
  const id = i === 0 ? '' : String(i + 1);
  series.forEach((pts, k) => {
    traces.push({
      type: 'scatter', mode: 'lines',
      x: pts.map(p => p[0]), y: pts.map(p => p[1]),
      xaxis: 'x' + id, yaxis: 'y' + id,
      name: seriesNames[k], showlegend: i === 1,
      line: {color: COLORS[k], width: 1.8},
      hoverinfo: 'skip'
    });
  });

  const common = {
    showline: true, mirror: true, linecolor: '#000', linewidth: 1.2,
    ticks: 'outside', ticklen: 5, tickwidth: 1.2, tickcolor: '#000',
    showgrid: false, zeroline: false, fixedrange: true,
    tickfont: {family: FONT, size: 17, color: '#000'}
  };
  const xa = Object.assign({}, common, {
    domain: [px(COL_LEFT[col]), px(COL_RIGHT[col])],
    anchor: 'y' + id, range: [-10, 10],
    tickmode: 'array', tickvals: energyTicks, ticktext: energyTickText,
    showticklabels: row === 2
  });
  if (row === 2) {
    xa.title = {text: 'Energy (eV)', font: {family: FONT, size: 24, color: '#000'}, standoff: 6};
  }
  const ya = Object.assign({}, common, {
    domain: [py(ROW_BOTTOM[row]), py(ROW_TOP[row])],
    anchor: 'x' + id, range: [0, 20],
    tickmode: 'array', tickvals: dosTicks,
    showticklabels: col === 0
  });
  if (col === 0) {
    ya.title = {text: 'DOS', font: {family: FONT, size: 22, color: '#000'}, standoff: 18};
  }
  layout['xaxis' + id] = xa;
  layout['yaxis' + id] = ya;

  // Fermi level
  layout.shapes.push({
    type: 'line', xref: 'x' + id, yref: 'y' + id + ' domain',
    x0: 0, x1: 0, y0: 0, y1: 1,
    line: {color: '#000', width: 1.3, dash: '5px,3px'}
  });

  // site label inside the panel
  const labelX = col === 0 ? (row === 1 ? 553 : 558) : (row === 0 ? 693 : 687);
  layout.annotations.push({
    xref: 'paper', yref: 'paper', x: px(labelX), y: py(ROW_TOP[row] + 7),
    xanchor: 'left', yanchor: 'top', showarrow: false,
    text: panelLabels[i], font: {family: FONT, size: 27, color: '#000'}
  });
});

// column headings and figure title
columnTitles.forEach((t, c) => {
  layout.annotations.push({
    xref: 'paper', yref: 'paper', x: px((COL_LEFT[c] + COL_RIGHT[c]) / 2), y: py(70),
    xanchor: 'center', yanchor: 'middle', showarrow: false,
    text: t, font: {family: FONT, size: 25, color: '#000'}
  });
});
layout.annotations.push({
  xref: 'paper', yref: 'paper', x: px(641), y: py(31),
  xanchor: 'center', yanchor: 'middle', showarrow: false,
  text: figureTitle, font: {family: FONT, size: 28, color: '#000'}
});

Plotly.newPlot('chart', traces, layout, {staticPlot: true, displayModeBar: false});
</script>
</body>
</html>
